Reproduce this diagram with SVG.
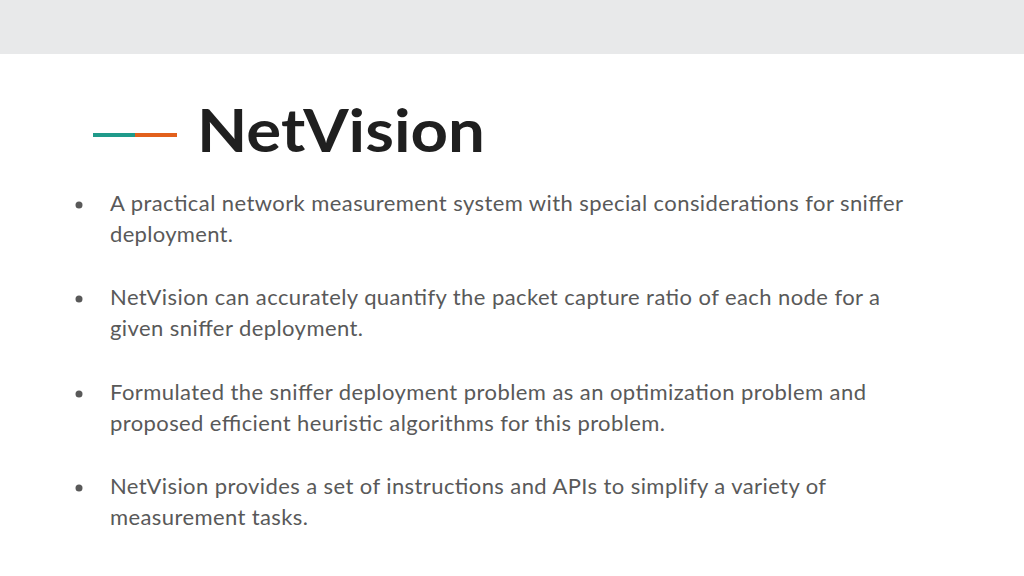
<svg xmlns="http://www.w3.org/2000/svg" width="1024" height="576" viewBox="0 0 1024 576">
<style>
.t{font-family:Lato,"Open Sans",sans-serif;font-size:22px;fill:#595959}
.d{fill:#595959}
</style>
<rect width="1024" height="576" fill="#ffffff"/>
<rect width="1024" height="54" fill="#e8e9ea"/>
<rect x="93" y="133" width="43" height="4" fill="#1f9a8a"/>
<rect x="135" y="133" width="42" height="4" fill="#e2601c"/>
<text x="197" y="152" textLength="288" lengthAdjust="spacingAndGlyphs" style="font-family:Lato,sans-serif;font-weight:bold;font-size:60px;fill:#1f1f1f">NetVision</text>
<g>
<circle class="d" cx="79" cy="205" r="3.5"/>
<text class="t" x="110" y="211" textLength="793">A practical network measurement system with special considerations for sniffer</text>
<text class="t" x="110" y="242" textLength="123">deployment.</text>
<circle class="d" cx="79" cy="299" r="3.5"/>
<text class="t" x="110" y="305" textLength="770">NetVision can accurately quantify the packet capture ratio of each node for a</text>
<text class="t" x="110" y="336" textLength="253">given sniffer deployment.</text>
<circle class="d" cx="79" cy="394" r="3.5"/>
<text class="t" x="110" y="400" textLength="756">Formulated the sniffer deployment problem as an optimization problem and</text>
<text class="t" x="110" y="431" textLength="555">proposed efficient heuristic algorithms for this problem.</text>
<circle class="d" cx="79" cy="488" r="3.5"/>
<text class="t" x="110" y="494" textLength="716">NetVision provides a set of instructions and APIs to simplify a variety of</text>
<text class="t" x="110" y="525" textLength="198">measurement tasks.</text>
</g>
</svg>
